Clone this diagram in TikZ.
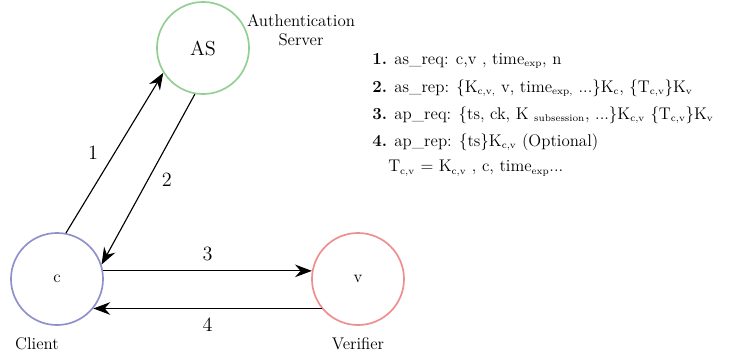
\documentclass[tikz,border=0pt]{standalone}
\usepackage[]{amsmath}
\usepackage[dvipsnames,svgnames]{xcolor}
\usetikzlibrary{positioning,arrows.meta}
\definecolor{asgreen}{HTML}{93CF93}
\definecolor{clpurple}{HTML}{9090CC}
\definecolor{vfred}{HTML}{EE8E8E}
\newcommand{\lsub}[1]{\textsubscript{\scriptsize #1}}
\tikzset{
  party/.style={circle,draw,line width=1.2pt,minimum size=2.3cm,inner sep=0pt},
  msg/.style={-{Stealth[length=12pt,width=9pt,inset=4pt]},line width=0.8pt},
  stepline/.style={anchor=west,inner sep=0pt,font=\large}
}
\begin{document}
\begin{tikzpicture}[x=0.025cm,y=-0.025cm]
        \useasboundingbox (0,0) rectangle (743,358);
        \node[party,asgreen] (as) at (203,48) {\textcolor{black}{\Large AS}};
        \node[party,clpurple] (cl) at (57,279) {\textcolor{black}{\large c}};
        \node[party,vfred] (vf) at (358,279) {\textcolor{black}{\large v}};
        \node[align=center,font=\large,inner sep=0pt] (asname) at (301,30) {Authentication\\Server};
        \node[font=\large,inner sep=0pt] (clname) at (37,344) {Client};
        \node[font=\large,inner sep=0pt] (vfname) at (358,344) {Verifier};
        % messages
        \draw[msg] (cl.79) -- (as.212) node[midway,left=8pt,font=\Large]{1};
        \draw[msg] (as.260) -- (cl.18) node[midway,right=6pt,font=\Large]{2};
        \draw[msg] (cl.10) -- (vf.170) node[midway,above=3pt,font=\Large]{3};
        \draw[msg] (vf.-141) -- (cl.-39) node[midway,below=3pt,font=\Large]{4};
        % protocol steps
        \node[stepline] (l1) at (372,61) {\textbf{1.} as\_req: c,v , time\lsub{exp}, n};
        \node[stepline] (l2) at (372,88) {\textbf{2.} as\_rep: \{K\lsub{c,v,} v, time\lsub{exp,} ...\}K\lsub{c}, \{T\lsub{c,v}\}K\lsub{v}};
        \node[stepline] (l3) at (372,115) {\textbf{3.} ap\_req: \{ts, ck, K \lsub{subsession}, ...\}K\lsub{c,v} \{T\lsub{c,v}\}K\lsub{v}};
        \node[stepline] (l4) at (372,142) {\textbf{4.} ap\_rep: \{ts\}K\lsub{c,v} (Optional)};
        \node[stepline] (l5) at (388,168) {T\lsub{c,v} = K\lsub{c,v} , c, time\lsub{exp}...};
\end{tikzpicture}
\end{document}
